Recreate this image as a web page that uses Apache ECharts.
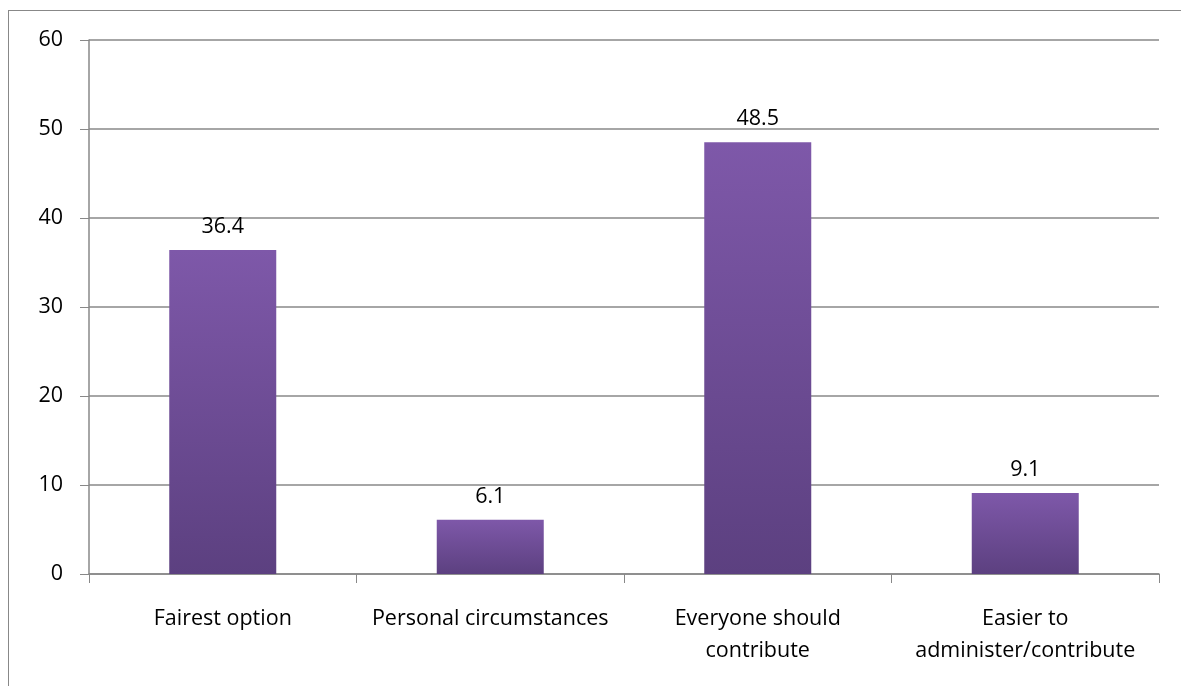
<!DOCTYPE html>
<html><head><meta charset="utf-8">
<script src="https://cdn.jsdelivr.net/npm/echarts@6/dist/echarts.min.js"></script>
<style>html,body{margin:0;padding:0;background:#fff}#c{width:1181px;height:686px}
#frame{position:absolute;left:8px;top:10px;width:1200px;height:700px;border:1px solid #888;box-sizing:border-box;pointer-events:none}</style>
</head><body><div id="c"></div><div id="frame"></div>
<script>
const categories = ['Fairest option', 'Personal circumstances', 'Everyone should\ncontribute', 'Easier to\nadminister/contribute'];
const values = [36.4, 6.1, 48.5, 9.1];
const yTicks = [0, 10, 20, 30, 40, 50, 60];

const chart = echarts.init(document.getElementById('c'));
const font = 'Open Sans, sans-serif';
chart.setOption({
  animation: false,
  grid: {left: 89, right: 22, top: 40, bottom: 112},
  xAxis: {
    type: 'category', data: categories,
    axisLine: {lineStyle: {color: '#888', width: 1.5}},
    axisTick: {show: true, interval: 0, length: 9, lineStyle: {color: '#888'}},
    axisLabel: {interval: 0, color: '#000', fontSize: 21.5, fontFamily: font, margin: 29, lineHeight: 32}
  },
  yAxis: {
    type: 'value', min: yTicks[0], max: yTicks[yTicks.length - 1], interval: 10,
    axisLine: {show: true, lineStyle: {color: '#888', width: 1.5}},
    axisTick: {show: true, length: 9, lineStyle: {color: '#888'}},
    splitLine: {lineStyle: {color: '#888', width: 1.5}},
    axisLabel: {color: '#000', fontSize: 21.5, fontFamily: font, margin: 26}
  },
  series: [{
    type: 'bar', data: values, barWidth: '40%',
    itemStyle: {color: new echarts.graphic.LinearGradient(0, 0, 0, 1, [
      {offset: 0, color: '#7E58A9'}, {offset: 1, color: '#5C4080'}
    ])},
    label: {show: true, position: 'top', distance: 12, color: '#000', fontSize: 21.5, fontFamily: font}
  }]
});
</script></body></html>
